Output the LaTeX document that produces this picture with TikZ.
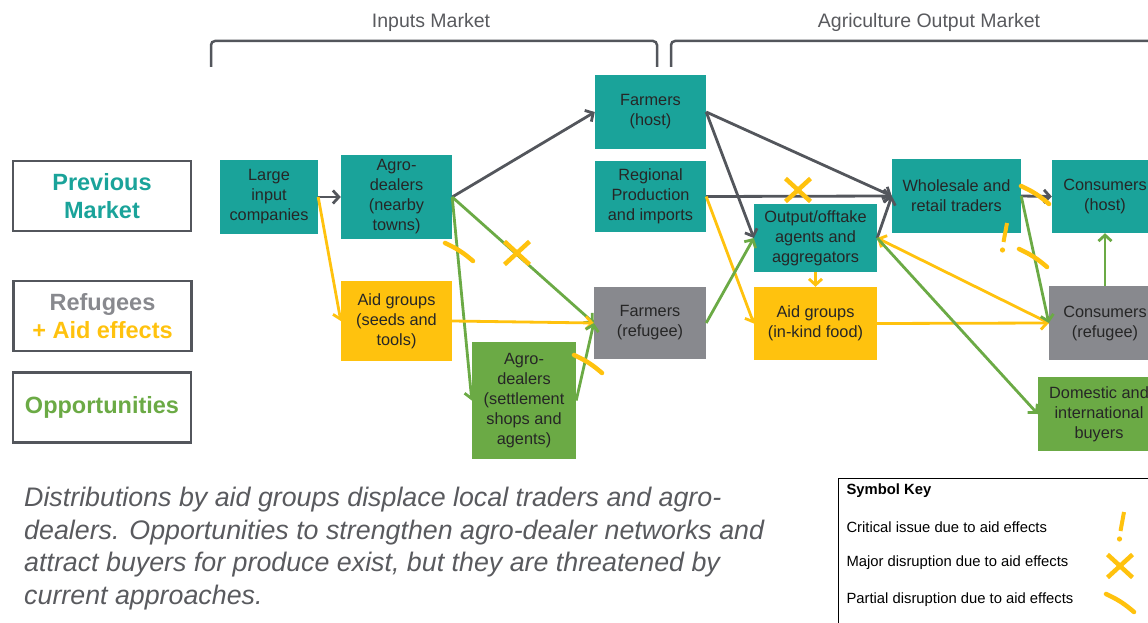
\documentclass[tikz,border=0pt]{standalone}
\usepackage{fontspec}
\setmainfont{Liberation Sans}
\usepackage{tikz}
\usetikzlibrary{arrows.meta,positioning,calc}
\definecolor{prevteal}{HTML}{1AA39A}
\definecolor{aidyel}{HTML}{FFC20E}
\definecolor{oppgreen}{HTML}{6BAA45}
\definecolor{refgray}{HTML}{88898E}
\definecolor{linegray}{HTML}{53565C}
\definecolor{txtgray}{HTML}{595A5E}
\tikzstyle{box}=[rectangle, inner sep=0pt, align=center, text=black!85, font=\fontsize{16.3}{20}\selectfont]
\tikzstyle{prev}=[box, fill=prevteal]
\tikzstyle{aid}=[box, fill=aidyel]
\tikzstyle{opp}=[box, fill=oppgreen]
\tikzstyle{refu}=[box, fill=refgray]
\tikzstyle{legbox}=[rectangle, draw=linegray, line width=2.5pt, minimum width=178, minimum height=70, align=center, font=\fontsize{23.5}{28}\selectfont\bfseries]
\tikzstyle{mk}=[draw=aidyel, line width=4.5pt]
% yellow marks of aid effects
\newcommand{\bigcross}[1]{\draw[mk] #1 ++(-12.5,-11.5) -- ++(25,23) #1 ++(-12.5,11.5) -- ++(25,-23);}
\newcommand{\partmark}[1]{\draw[mk, line cap=round] #1 ++(-14,-9) to[bend left=8] ++(28,18);}
\newcommand{\critmark}[1]{\draw[mk, line width=4pt] #1 ++(3,-15) -- ++(-3.5,19); \fill[aidyel] #1 ++(-1.5,12) circle (2.6);}
\begin{document}
\begin{tikzpicture}[x=1pt,y=-1pt,>={Straight Barb[length=6pt,width=13pt]},
	garr/.style={->, draw=linegray, line width=2.8pt},
	yarr/.style={->, draw=aidyel, line width=2.8pt},
	oarr/.style={->, draw=oppgreen, line width=2.8pt}]
	\useasboundingbox (0,0) rectangle (1148,623);
	% market brackets
	\draw[linegray, line width=2.5pt, rounded corners=4pt] (211,67) -- (211,41) -- (657,41) -- (657,67);
	\draw[linegray, line width=2.5pt, rounded corners=4pt] (671,67) -- (671,41) -- (1160,41);
	\node[text=txtgray, font=\fontsize{19.5}{22}\selectfont] (inlab) at (431,22) {Inputs Market};
	\node[text=txtgray, font=\fontsize{19.5}{22}\selectfont] (outlab) at (929,22) {Agriculture Output Market};
	% legend
	\node[legbox, text=prevteal] (legprev) at (102,196) {Previous\\Market};
	\node[legbox] (legref) at (102.5,316) {\textcolor{refgray}{Refugees}\\\textcolor{aidyel}{+ Aid effects}};
	\node[legbox, text=oppgreen] (legopp) at (102,407.5) {Opportunities};
	% actors
	\node[prev, minimum width=98, minimum height=74] (large) at (269,197) {Large\\input\\companies};
	\node[prev, minimum width=111, minimum height=84] (agroN) at (396.5,197) {Agro-\\dealers\\(nearby\\towns)};
	\node[aid, minimum width=111, minimum height=80] (aidS) at (396.5,321) {Aid groups\\(seeds and\\tools)};
	\node[opp, minimum width=104, minimum height=117] (agroS) at (524,400.5) {Agro-\\dealers\\(settlement\\shops and\\agents)};
	\node[prev, minimum width=111, minimum height=74] (farmH) at (650.5,112) {Farmers\\(host)};
	\node[prev, minimum width=111, minimum height=71] (regional) at (650.5,196.5) {Regional\\Production\\and imports};
	\node[refu, minimum width=112, minimum height=72] (farmR) at (650,323) {Farmers\\(refugee)};
	\node[prev, minimum width=123, minimum height=68] (output) at (815.5,238) {Output/offtake\\agents and\\aggregators};
	\node[aid, minimum width=123, minimum height=73] (aidF) at (815.5,323.5) {Aid groups\\(in-kind food)};
	\node[prev, minimum width=129, minimum height=74] (whole) at (956.5,196) {Wholesale and\\retail traders};
	\node[prev, minimum width=106, minimum height=73] (consH) at (1105,196.5) {Consumers\\(host)};
	\node[refu, minimum width=112, minimum height=74] (consR) at (1105,323) {Consumers\\(refugee)};
	\node[opp, minimum width=122, minimum height=74] (domestic) at (1099,414) {Domestic and\\international\\buyers};
	% flows
	\draw[garr] (large.east) -- (agroN.west);
	\draw[yarr] (large.east) -- (aidS.west);
	\draw[garr] (agroN.east) -- (farmH.west);
	\draw[oarr] (agroN.east) -- (farmR.west);
	\draw[oarr] (agroN.east) -- (agroS.west);
	\draw[yarr] (aidS.east) -- (farmR.west);
	\draw[oarr] (agroS.east) -- (farmR.west);
	\draw[garr] (farmH.east) -- (whole.west);
	\draw[garr] (farmH.east) -- (output.west);
	\draw[garr] (regional.east) -- (whole.west);
	\draw[yarr] (regional.east) -- (aidF.west);
	\draw[oarr] (farmR.east) -- (output.west);
	\draw[garr] (output.east) -- (whole.west);
	\draw[yarr] (output.south) -- (aidF.north);
	\draw[yarr] (aidF.east) -- (consR.west);
	\draw[yarr] (consR.west) -- (output.east);
	\draw[oarr] (output.east) -- (domestic.west);
	\draw[garr] (whole.east) -- (consH.west);
	\draw[oarr] (whole.east) -- (consR.west);
	\draw[oarr] (consR.north) -- (consH.south);
	% aid effects
	\bigcross{(517,253)}
	\partmark{(459,252)}
	\partmark{(588,364)}
	\bigcross{(798,190)}
	\partmark{(1035,195)}
	\critmark{(1004,238)}
	\partmark{(1033,258)}
	% symbol key
	\node[draw, line width=1.3pt, minimum width=330, minimum height=170, anchor=north west] (key) at (838,478) {};
	\node[anchor=west, font=\fontsize{14.8}{17}\selectfont\bfseries] (keyhead) at (843,491) {Symbol Key};
	\node[anchor=west, font=\fontsize{14.8}{17}\selectfont] (keycrit) at (843,527) {Critical issue due to aid effects};
	\node[anchor=west, font=\fontsize{14.8}{17}\selectfont] (keymaj) at (843,563) {Major disruption due to aid effects};
	\node[anchor=west, font=\fontsize{14.8}{17}\selectfont] (keypart) at (843,600) {Partial disruption due to aid effects};
	\critmark{(1121,527)}
	\bigcross{(1120,566)}
	\partmark{(1120,603)}
	% caption
	\node[anchor=north west, align=left, text=txtgray, inner sep=0pt, font=\fontsize{26.8}{32.5}\selectfont\itshape] (caption) at (24,487) {Distributions by aid groups displace local traders and agro-\\dealers. Opportunities to strengthen agro-dealer networks and\\attract buyers for produce exist, but they are threatened by\\current approaches.};
\end{tikzpicture}
\end{document}
